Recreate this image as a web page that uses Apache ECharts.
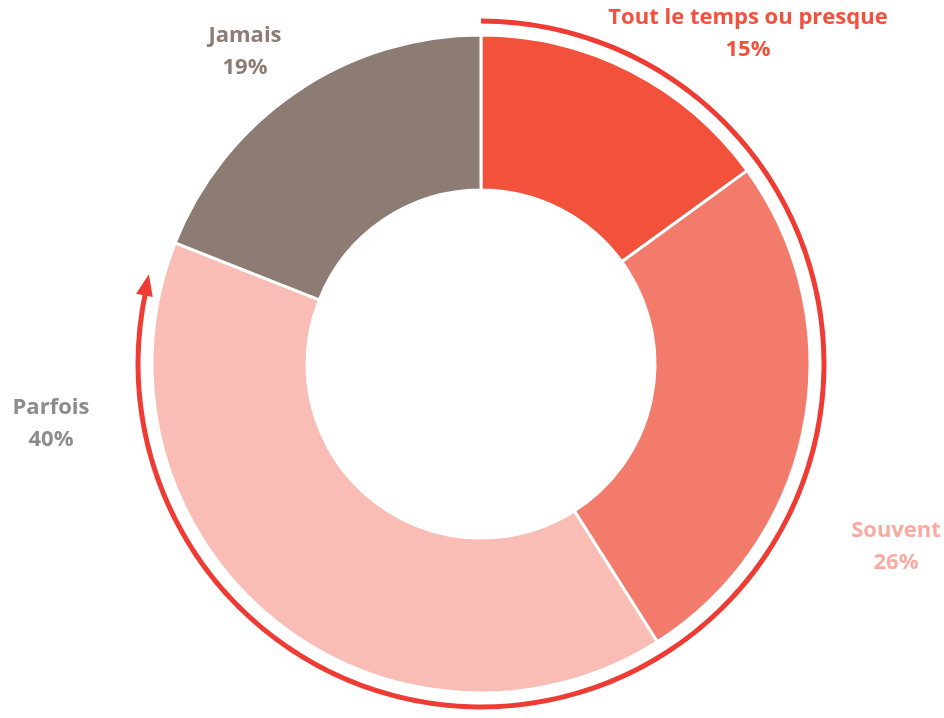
<!DOCTYPE html>
<html>
<head>
<meta charset="utf-8">
<script src="https://cdn.jsdelivr.net/npm/echarts@6/dist/echarts.min.js"></script>
<style>
  html, body { margin: 0; padding: 0; background: #fff; }
  #chart { width: 944px; height: 718px; }
</style>
</head>
<body>
<div id="chart"></div>
<script>
const categories = ['Tout le temps ou presque', 'Souvent', 'Parfois', 'Jamais'];
const shares = [15, 26, 40, 19];
const sliceColors = ['#F2513B', '#F27B6B', '#FABDB6', '#8C7C74'];
const labelColors = ['#F2513B', '#FBAAA0', '#8C8C8C', '#8C7C74'];
// where each label sits (px)
const labelPos = [[748, 34], [896, 547], [51, 424], [245, 52]];

const center = [481, 364];
const arcRadius = 343;
const arcColor = '#EE3B33';
// the arrow covers the first three slices, stopping a bit short
const arcShare = shares[0] + shares[1] + shares[2] - 1.8;
const headLen = 1.0; // in percent of the circle

const chartDom = document.getElementById('chart');
const chart = echarts.init(chartDom);

// arrow head at the end of the arc
function arrowHead() {
  const tipA = (arcShare / 100) * 2 * Math.PI;
  const baseA = ((arcShare - headLen) / 100) * 2 * Math.PI;
  const pt = (a, r) => [center[0] + r * Math.sin(a), center[1] - r * Math.cos(a)];
  return [pt(tipA, arcRadius + 1), pt(baseA, arcRadius + 9), pt(baseA, arcRadius - 8)];
}

chart.setOption({
  animation: false,
  series: [
    {
      type: 'pie',
      center: center,
      radius: [174, 329],
      startAngle: 90,
      clockwise: true,
      silent: true,
      itemStyle: { borderColor: '#fff', borderWidth: 3 },
      label: {
        show: true,
        formatter: '{b}\n{c}%',
        fontFamily: 'Open Sans',
        fontWeight: 'bold',
        fontSize: 22,
        lineHeight: 32,
        align: 'center',
        overflow: 'none'
      },
      labelLine: { show: false },
      labelLayout: (p) => ({
        x: labelPos[p.dataIndex][0],
        y: labelPos[p.dataIndex][1],
        align: 'center',
        verticalAlign: 'middle'
      }),
      data: categories.map((name, i) => ({
        name: name,
        value: shares[i],
        itemStyle: { color: sliceColors[i] },
        label: { color: labelColors[i] }
      }))
    },
    {
      type: 'pie',
      center: center,
      radius: [arcRadius - 2.5, arcRadius + 2.5],
      startAngle: 90,
      clockwise: true,
      silent: true,
      label: { show: false },
      labelLine: { show: false },
      data: [
        { value: arcShare - headLen + 0.2, itemStyle: { color: arcColor } },
        { value: 100 - arcShare + headLen - 0.2, itemStyle: { color: 'transparent' } }
      ]
    }
  ],
  graphic: [
    {
      type: 'polygon',
      shape: { points: arrowHead() },
      style: { fill: arcColor },
      silent: true
    }
  ]
});
</script>
</body>
</html>
